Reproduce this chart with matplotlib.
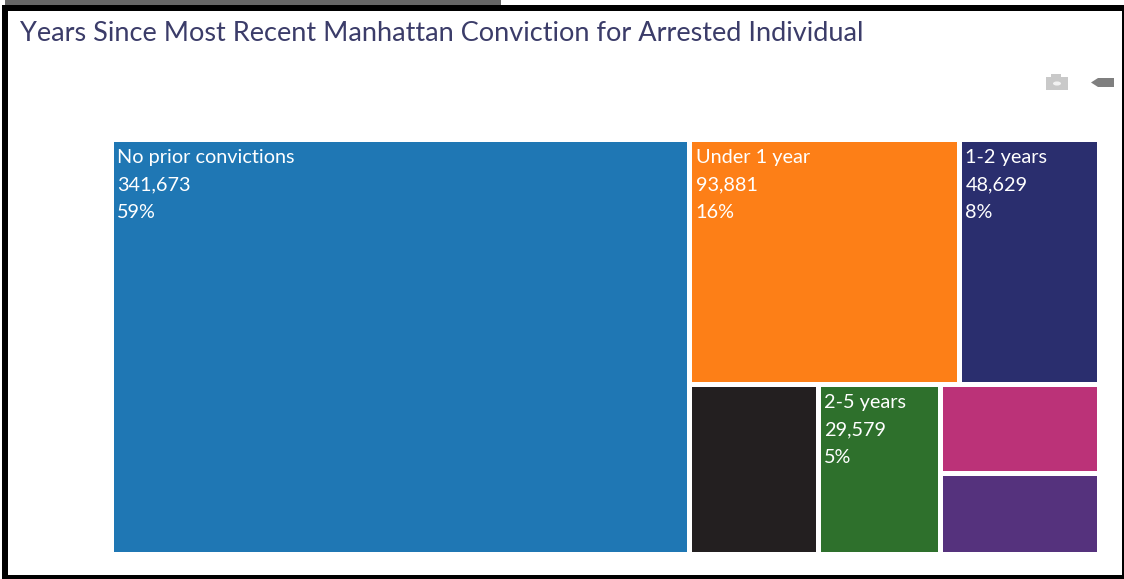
import matplotlib
matplotlib.use("Agg")
import matplotlib.pyplot as plt
from matplotlib.patches import Rectangle, Circle, Polygon

W, H = 1124, 579
title = "Years Since Most Recent Manhattan Conviction for Arrested Individual"
categories = ["No prior convictions", "Under 1 year", "1-2 years", "", "2-5 years", "", ""]
values = [341673, 93881, 48629, 31000, 29579, 20100, 18200]
percents = ["59%", "16%", "8%", "", "5%", "", ""]
show_label = [True, True, True, False, True, False, False]
colors = ["#1f77b4", "#fd7f17", "#2a2e6e", "#231f20", "#2e702c", "#bb3278", "#55327d"]

plt.rcParams["font.family"] = ["Lato", "DejaVu Sans"]
fig = plt.figure(figsize=(W / 100, H / 100), dpi=100, facecolor="white")


def fx(x):
    return x / W


def fy(y):
    return 1 - y / H


def px_rect(x0, y0, x1, y1, color):
    fig.add_artist(Rectangle((fx(x0), fy(y1)), (x1 - x0) / W, (y1 - y0) / H,
                             transform=fig.transFigure, facecolor=color, edgecolor="none"))


# screenshot frame
px_rect(5, 0, 501, 5, "#666666")
px_rect(2, 5, 1124, 11, "#000000")
px_rect(2, 5, 8, 579, "#000000")
px_rect(1122, 5, 1124, 579, "#000000")
px_rect(2, 575, 1124, 579, "#000000")

fig.text(fx(20), fy(33.5), title, fontsize=19.5, color="#3b3c69", va="center", ha="left")

# toolbar icons
px_rect(1046, 77, 1068, 90, "#c9c9c9")
px_rect(1051, 74, 1061, 78, "#c9c9c9")
fig.add_artist(Circle((fx(1057), fy(83.5)), 4 / W, transform=fig.transFigure,
                      facecolor="#f2f2f2", edgecolor="none"))
fig.add_artist(Polygon([(fx(1091), fy(82.5)), (fx(1098), fy(78)), (fx(1114), fy(78)),
                        (fx(1114), fy(87)), (fx(1098), fy(87))],
                       transform=fig.transFigure, facecolor="#7f7f7f", edgecolor="none"))

# treemap axes: extended by half a gap so white edges leave the marks at their size
ax = fig.add_axes([fx(110.5), fy(553.5), 988 / W, 415 / H])
ax.set_xlim(0, 1)
ax.set_ylim(1, 0)
ax.axis("off")

total = sum(values)
rest = total - values[0]
x_split = values[0] / total
top_row = values[1] + values[2]
y_split = top_row / rest
right_w = 1 - x_split
bottom = rest - top_row
pair = values[5] + values[6]

# layout: (x, y, w, h) derived only from the values
o_w = right_w * values[1] / top_row
b_w = right_w * values[3] / bottom
g_w = right_w * values[4] / bottom
p_w = right_w * pair / bottom
p_h = (1 - y_split) * values[5] / pair
layout = [
    (0, 0, x_split, 1),
    (x_split, 0, o_w, y_split),
    (x_split + o_w, 0, right_w - o_w, y_split),
    (x_split, y_split, b_w, 1 - y_split),
    (x_split + b_w, y_split, g_w, 1 - y_split),
    (x_split + b_w + g_w, y_split, p_w, p_h),
    (x_split + b_w + g_w, y_split + p_h, p_w, 1 - y_split - p_h),
]

for (x, y, w, h), c in zip(layout, colors):
    ax.bar(x, h, width=w, bottom=y, align="edge", color=c, edgecolor="white", linewidth=3.6)

for (x, y, w, h), name, v, pct, show in zip(layout, categories, values, percents, show_label):
    if not show:
        continue
    for i, line in enumerate([name, f"{v:,}", pct]):
        ax.annotate(line, xy=(x, y), xytext=(4.6, -(19 + 27.5 * i) * 0.72), textcoords="offset points",
                    color="white", fontsize=14.3, va="center", ha="left")

fig.savefig("out.png", dpi=100)
